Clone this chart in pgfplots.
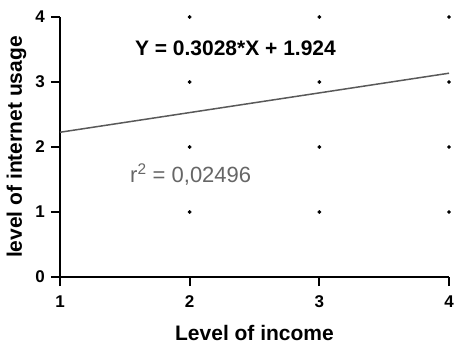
\documentclass[border=0pt]{standalone}
\usepackage{pgfplots}
\pgfplotsset{compat=1.18}
\usepackage{fontspec}
\setmainfont{Liberation Sans}
\begin{document}
\begin{tikzpicture}
\begin{axis}[
  scale only axis,
  width=389pt, height=260pt,
  xmin=1, xmax=4, ymin=0, ymax=4,
  xtick={1,2,3,4}, ytick={0,1,2,3,4},
  axis x line=bottom, axis y line=left,
  axis line style={-, line width=2pt},
  xtick align=outside, ytick align=outside,
  every tick/.append style={draw=black, line width=2pt},
  major tick length=9pt,
  /pgf/number format/assume math mode=true,
  tick label style={font=\fontsize{17}{20}\selectfont\bfseries},
  xticklabel style={anchor=center, yshift=-16pt},
  yticklabel style={anchor=center, xshift=-11pt},
  xlabel={Level of income},
  ylabel={level of internet usage},
  label style={font=\fontsize{21}{25}\selectfont\bfseries},
  xlabel style={at={(axis description cs:0.5,-0.217)}, anchor=center},
  ylabel style={at={(axis description cs:-0.112,0.5)}, anchor=center},
  clip=false,
]
\addplot[only marks, mark=*, mark size=1.7pt, black] coordinates {
  (2,1) (2,2) (2,3) (2,4)
  (3,1) (3,2) (3,3) (3,4)
  (4,1) (4,2) (4,3) (4,4)
};
\addplot[color=black!65, line width=1.5pt] coordinates {(1,2.2268) (4,3.1352)};
\node[anchor=base, font=\fontsize{21}{24}\selectfont\bfseries] at (axis cs:2.353,3.40) {Y = 0.3028*X + 1.924};
\node[anchor=base west, inner sep=0pt, text=black!60, font=\fontsize{22}{25}\selectfont] at (axis cs:1.54,1.46) {r$^{\mathrm{2}}$ = 0,02496};
\coordinate (SW) at (rel axis cs:0,0);
\coordinate (NE) at (rel axis cs:1,1);
\end{axis}
\pgfresetboundingbox
\path[use as bounding box] ([shift={(-60pt,-68pt)}]SW) rectangle ([shift={(5pt,17pt)}]NE);
\end{tikzpicture}
\end{document}
